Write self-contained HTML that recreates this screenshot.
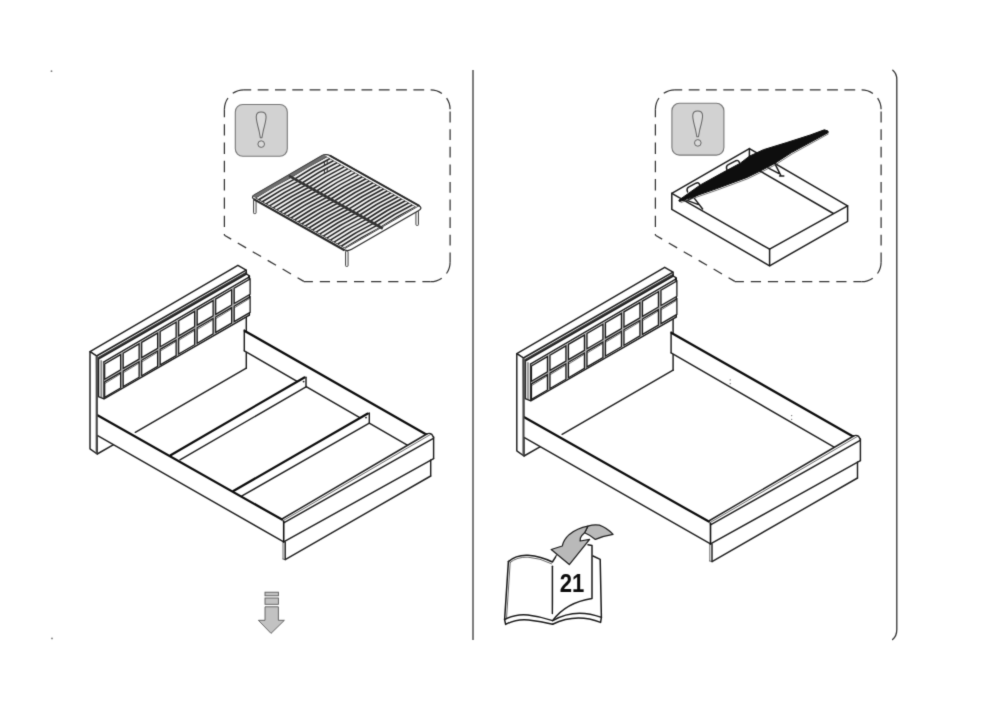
<!DOCTYPE html>
<html lang="en">
<head>
<meta charset="utf-8">
<title>Assembly step</title>
<style>
html,body{margin:0;padding:0;background:#fff;}
body{width:1000px;height:726px;overflow:hidden;position:relative;font-family:"Liberation Sans",sans-serif;}
svg{position:absolute;left:0;top:0;display:block;will-change:transform;}
.t{fill:none;stroke:#1e1e1e;stroke-width:1.45;stroke-linecap:round;stroke-linejoin:round;}
.f{fill:none;stroke:#3a3a3a;stroke-width:0.75;stroke-linecap:round;}
.g{fill:none;stroke:#222;stroke-width:1.5;stroke-linecap:butt;}
.k{fill:none;stroke:#0c0c0c;stroke-width:2.3;stroke-linecap:round;}
.k2{fill:none;stroke:#111;stroke-width:1.6;stroke-linecap:round;}
.c{fill:#fff;stroke:#1a1a1a;stroke-width:1.25;stroke-linejoin:miter;}
.cg{fill:#b4b4b4;stroke:none;}
.mb{fill:#3a3a3a;stroke:none;}
.pl{fill:#dedede;stroke:none;}
.m2{fill:none;stroke:#484848;stroke-width:2.1;stroke-linecap:butt;}
.w{fill:#fff;stroke:none;}
.bk{fill:none;stroke:#1a1a1a;stroke-width:1.5;stroke-linecap:round;stroke-linejoin:round;}
.m{fill:none;stroke:#3c3c3c;stroke-width:1.7;stroke-linecap:butt;}
.b{fill:none;stroke:#1c1c1c;stroke-width:1.5;stroke-linecap:round;stroke-linejoin:round;}
.d{fill:none;stroke:#333;stroke-width:1.25;stroke-dasharray:10.4 6.9;}
.sbf{fill:#262626;stroke:none;}
.sbbar{fill:#6e6e6e;stroke:#444;stroke-width:0.5;}
.sbe{fill:none;stroke:#2a2a2a;stroke-width:2.2;}
.sbe2{fill:none;stroke:#2a2a2a;stroke-width:1.8;}
.sbl{fill:none;stroke:#333;stroke-width:0.9;}
.sbc{fill:none;stroke:#333;stroke-width:2.6;}
.num{font-family:"Liberation Sans",sans-serif;font-weight:700;font-size:26.2px;fill:#0c0c0c;}
.ex{font-family:"Noto Serif CJK SC","Liberation Serif",serif;font-weight:900;font-size:51px;fill:#dadada;stroke:#666;stroke-width:1;stroke-linejoin:round;}
</style>
</head>
<body>
<svg width="1000" height="726" viewBox="0 0 1000 726">
<defs>
<g id="bedA">
<path class="w"  d="M90.0 351.6 L237.9 265.3 L246.2 270.2 L246.4 368.2 L135.0 432.4 L97.2 414.6 L97.2 355.5 Z"/>
<path class="t"  d="M90.0 351.6 L237.9 265.3 L246.2 270.2 L96.6 356.0 Z"/>
<path class="mb"  d="M97.6 357.3 L246.5 271.5 L246.5 273.7 L97.6 359.5 Z"/>
<path class="t" d="M246.2 270.2 L246.5 274.0"/>
<path class="w"  d="M90.0 351.6 L96.6 356.0 L97.2 454.0 L90.0 448.8 Z"/>
<path class="t"  d="M90.0 351.6 L96.6 356.0 L97.2 454.0 L90.0 448.8 Z"/>
<path class="t" d="M97.2 454.0 L113.6 444.7"/>
<path class="t" d="M246.3 314.5 L246.3 368.2"/>
<path class="t" d="M246.3 368.2 L135.3 432.3"/>
<path class="w"  d="M98.4 359.1 L246.5 274.0 L249.4 275.9 L249.4 315.0 L104.0 398.8 L98.4 396.6 Z"/>
<path class="pl"  d="M98.4 359.1 L104.0 361.9 L104.0 398.8 L98.4 396.6 Z"/>
<path class="t"  d="M98.4 359.1 L246.5 274.0 L249.4 275.9 L249.4 315.0 L104.0 398.8 L98.4 396.6 Z"/>
<path class="f" d="M101.2 360.6 L101.2 397.6"/>
<path class="t" d="M104.0 362.0 L104.0 398.6"/>
<path class="t" d="M104.0 361.9 L249.4 276.9"/>
<path class="k2" d="M249.0 276.4 L249.0 315.0"/>
<path class="cg"  d="M104.2 362.8 L248.9 278.2 L248.9 314.6 L104.2 397.9 Z"/>
<path class="c"  d="M104.7 364.0 L120.6 354.7 L120.6 369.9 L104.7 379.2 Z"/>
<path class="c"  d="M104.7 381.9 L120.6 372.6 L120.6 388.0 L104.7 397.3 Z"/>
<path class="f" d="M105.1 383.4 L120.2 374.1"/>
<path class="c"  d="M123.2 353.2 L139.1 343.9 L139.1 359.1 L123.2 368.4 Z"/>
<path class="c"  d="M123.2 371.1 L139.1 361.8 L139.1 377.2 L123.2 386.5 Z"/>
<path class="f" d="M123.6 372.6 L138.7 363.3"/>
<path class="c"  d="M141.7 342.4 L157.6 333.1 L157.6 348.3 L141.7 357.6 Z"/>
<path class="c"  d="M141.7 360.3 L157.6 351.0 L157.6 366.4 L141.7 375.7 Z"/>
<path class="f" d="M142.1 361.8 L157.2 352.5"/>
<path class="c"  d="M160.2 331.5 L176.1 322.3 L176.1 337.5 L160.2 346.7 Z"/>
<path class="c"  d="M160.2 349.4 L176.1 340.2 L176.1 355.6 L160.2 364.8 Z"/>
<path class="f" d="M160.6 350.9 L175.7 341.7"/>
<path class="c"  d="M178.7 320.7 L194.6 311.4 L194.6 326.6 L178.7 335.9 Z"/>
<path class="c"  d="M178.7 338.6 L194.6 329.3 L194.6 344.7 L178.7 354.0 Z"/>
<path class="f" d="M179.1 340.1 L194.2 330.8"/>
<path class="c"  d="M197.2 309.9 L213.1 300.6 L213.1 315.8 L197.2 325.1 Z"/>
<path class="c"  d="M197.2 327.8 L213.1 318.5 L213.1 333.9 L197.2 343.2 Z"/>
<path class="f" d="M197.6 329.3 L212.7 320.0"/>
<path class="c"  d="M215.7 299.1 L231.6 289.8 L231.6 305.0 L215.7 314.3 Z"/>
<path class="c"  d="M215.7 317.0 L231.6 307.7 L231.6 323.1 L215.7 332.4 Z"/>
<path class="f" d="M216.1 318.5 L231.2 309.2"/>
<path class="c"  d="M234.2 288.3 L250.1 279.0 L250.1 294.2 L234.2 303.5 Z"/>
<path class="c"  d="M234.2 306.2 L250.1 296.9 L250.1 312.3 L234.2 321.6 Z"/>
<path class="f" d="M234.6 307.7 L249.7 298.4"/>
<path class="w"  d="M244.3 330.0 L426.3 434.2 L407.3 445.2 L244.3 350.8 Z"/>
<path class="t" d="M244.3 330.0 L244.3 350.8"/>
<path class="t" d="M244.3 350.8 L407.3 445.2"/>
<path class="k" d="M244.8 330.9 L426.3 434.4"/>
</g>
<g id="bedB">
<path class="w"  d="M97.2 414.6 L282.0 519.6 L283.7 541.9 L97.2 435.4 Z"/>
<path class="w"  d="M282.0 519.2 L426.3 434.2 L429.5 433.2 L433.6 437.0 L433.6 458.6 L283.7 541.9 Z"/>
<path class="w"  d="M283.0 542.4 L430.7 459.9 L430.7 476.0 L285.2 559.6 L283.0 559.0 Z"/>
<path class="t" d="M97.2 435.4 L283.7 541.9"/>
<path class="k" d="M97.5 415.2 L282.0 519.6"/>
<path class="m2" d="M96.7 356.2 L96.7 453.6"/>
<path class="t" d="M282.0 519.0 L426.8 434.0"/>
<path class="f" d="M283.0 520.7 L430.5 434.5"/>
<path class="t" d="M283.7 522.8 L433.4 438.4"/>
<path class="t" d="M426.8 434.0 Q429.5 432.6 431.8 434.4 L433.6 437.4"/>
<path class="t" d="M433.6 437.0 L433.6 458.6"/>
<path class="t" d="M433.6 458.6 L283.7 541.9"/>
<path class="k2" d="M283.7 521.2 L283.7 541.9"/>
<path class="t" d="M430.7 459.9 L430.7 476.0"/>
<path class="t" d="M430.7 476.0 L285.2 559.6"/>
<path class="f" d="M283.0 542.4 L283.0 559.0"/>
<path class="t" d="M285.2 542.0 L285.2 559.6"/>
<path class="f" d="M283.0 559.0 L285.2 559.6"/>
</g>
<clipPath id="stemclip"><rect x="10" y="2" width="34" height="34.2"/></clipPath>
<g id="callout" fill="none" stroke="#333" stroke-width="1.25">
<path d="M243.9 89.8 H430.6" stroke-dasharray="10.8 6.5" stroke-dashoffset="3.5"/>
<path d="M430.6 89.8 A19.5 19.5 0 0 1 450.1 109.3" stroke-dasharray="12 6.6 12 0"/>
<path d="M450.1 109.3 V262.2" stroke-dasharray="10.8 6.8" stroke-dashoffset="15.3"/>
<path d="M450.1 262.2 A19.5 19.5 0 0 1 430.6 281.7" stroke-dasharray="12 6.6 12 0"/>
<path d="M303.8 281.7 H430.6" stroke-dasharray="10.2 6.9" stroke-dashoffset="1.1"/>
<path d="M224.4 235.2 L303.8 281.4" stroke-dasharray="9.7 7.6" stroke-dashoffset="1.85"/>
<path d="M224.4 109.3 V235.2" stroke-dasharray="11.4 6.9" stroke-dashoffset="3.4"/>
<path d="M224.4 109.3 A19.5 19.5 0 0 1 243.9 89.8" stroke-dasharray="12 6.6 12 0"/>
</g>
<g id="warn">
<rect x="0.5" y="0.5" width="52" height="51.8" rx="7.5" ry="7.5" fill="#d2d2d2" stroke="#777" stroke-width="1.1"/>
<g clip-path="url(#stemclip)"><text class="ex" x="26.4" y="47.4" text-anchor="middle">!</text></g>
<circle cx="26.4" cy="40.1" r="3.3" fill="#dadada" stroke="#666" stroke-width="1"/>
</g>
<filter id="soft" x="0" y="0" width="1000" height="726" filterUnits="userSpaceOnUse" color-interpolation-filters="sRGB"><feConvolveMatrix order="3" kernelMatrix="1 6 1 6 36 6 1 6 1" divisor="64" edgeMode="duplicate" preserveAlpha="false"/></filter>
</defs>
<g filter="url(#soft)">
<rect x="0" y="0" width="1000" height="726" fill="#fff"/>

<!-- page frame -->
<rect x="472" y="70" width="2" height="570" fill="#7c7c7c"/>
<path d="M892.8 70.2 Q896.8 73.4 896.8 79.5 L896.8 629.5 Q896.8 636 892.6 639.6" fill="none" stroke="#333" stroke-width="1.3" stroke-linecap="round"/>
<circle cx="51.5" cy="71.2" r="0.9" fill="#777"/>
<circle cx="52" cy="638.4" r="0.9" fill="#777"/>

<!-- left callout -->
<use href="#callout"/>
<use href="#warn" x="234.8" y="104"/>
<g id="slatbase">
<rect x="253.5" y="199.5" width="2.6" height="14.1" rx="0.8" fill="#ececec" stroke="#3a3a3a" stroke-width="0.9"/>
<rect x="415.9" y="211.0" width="2.6" height="14.4" rx="0.8" fill="#ececec" stroke="#3a3a3a" stroke-width="0.9"/>
<rect x="345.5" y="251.0" width="2.6" height="15.4" rx="0.8" fill="#ececec" stroke="#3a3a3a" stroke-width="0.9"/>
<path d="M254.7 199.7 Q250.3 197.2 254.6 194.7 L321.7 155.9 Q326.0 153.4 330.4 155.9 L418.7 205.5 Q423.1 208.0 418.8 210.5 L351.7 249.3 Q347.4 251.8 343.0 249.3 Z" fill="#fff" stroke="#2e2e2e" stroke-width="1.3" stroke-linejoin="round"/>
<path class="sbf"  d="M254.9 197.9 L326.5 156.4 L416.0 206.8 L344.4 248.2 Z"/>
<path d="M256.4 198.0 Q273.9 186.6 291.4 177.8 L293.3 178.9 Q275.8 187.7 258.3 199.1 Z" fill="#f2f2f2"/>
<path d="M292.6 177.1 Q309.8 165.9 327.0 157.2 L328.9 158.3 Q311.7 167.0 294.5 178.2 Z" fill="#f2f2f2"/>
<path d="M260.0 200.1 Q277.5 188.6 295.0 179.8 L296.9 180.9 Q279.4 189.7 261.9 201.1 Z" fill="#f2f2f2"/>
<path d="M296.2 179.1 Q313.4 167.9 330.5 159.2 L332.5 160.3 Q315.3 169.0 298.1 180.2 Z" fill="#f2f2f2"/>
<path d="M263.6 202.1 Q281.1 190.7 298.6 181.8 L300.5 182.9 Q283.0 191.7 265.5 203.2 Z" fill="#f2f2f2"/>
<path d="M299.8 181.1 Q316.9 169.9 334.1 161.3 L336.1 162.3 Q318.9 171.0 301.7 182.2 Z" fill="#f2f2f2"/>
<path d="M267.2 204.1 Q284.6 192.7 302.1 183.9 L304.1 184.9 Q286.6 193.8 269.1 205.2 Z" fill="#f2f2f2"/>
<path d="M303.3 183.2 Q320.5 171.9 337.7 163.3 L339.6 164.4 Q322.5 173.0 305.3 184.2 Z" fill="#f2f2f2"/>
<path d="M270.7 206.1 Q288.2 194.7 305.7 185.9 L307.6 187.0 Q290.2 195.8 272.7 207.2 Z" fill="#f2f2f2"/>
<path d="M306.9 185.2 Q324.1 173.9 341.3 165.3 L343.2 166.4 Q326.0 175.0 308.9 186.3 Z" fill="#f2f2f2"/>
<path d="M274.3 208.1 Q291.8 196.7 309.3 187.9 L311.2 189.0 Q293.7 197.8 276.3 209.2 Z" fill="#f2f2f2"/>
<path d="M310.5 187.2 Q327.7 175.9 344.9 167.3 L346.8 168.4 Q329.6 177.0 312.4 188.3 Z" fill="#f2f2f2"/>
<path d="M277.9 210.1 Q295.4 198.7 312.9 189.9 L314.8 191.0 Q297.3 199.8 279.8 211.2 Z" fill="#f2f2f2"/>
<path d="M314.1 189.2 Q331.3 178.0 348.5 169.3 L350.4 170.4 Q333.2 179.0 316.0 190.3 Z" fill="#f2f2f2"/>
<path d="M281.5 212.1 Q299.0 200.7 316.5 191.9 L318.4 193.0 Q300.9 201.8 283.4 213.2 Z" fill="#f2f2f2"/>
<path d="M317.7 191.2 Q334.9 180.0 352.0 171.3 L354.0 172.4 Q336.8 181.1 319.6 192.3 Z" fill="#f2f2f2"/>
<path d="M285.1 214.2 Q302.6 202.7 320.0 193.9 L322.0 195.0 Q304.5 203.8 287.0 215.2 Z" fill="#f2f2f2"/>
<path d="M321.2 193.2 Q338.4 182.0 355.6 173.3 L357.5 174.4 Q340.4 183.1 323.2 194.3 Z" fill="#f2f2f2"/>
<path d="M288.6 216.2 Q306.1 204.8 323.6 195.9 L325.6 197.0 Q308.1 205.8 290.6 217.3 Z" fill="#f2f2f2"/>
<path d="M324.8 195.2 Q342.0 184.0 359.2 175.3 L361.1 176.4 Q343.9 185.1 326.8 196.3 Z" fill="#f2f2f2"/>
<path d="M292.2 218.2 Q309.7 206.8 327.2 197.9 L329.1 199.0 Q311.6 207.9 294.2 219.3 Z" fill="#f2f2f2"/>
<path d="M328.4 197.2 Q345.6 186.0 362.8 177.4 L364.7 178.4 Q347.5 187.1 330.3 198.3 Z" fill="#f2f2f2"/>
<path d="M295.8 220.2 Q313.3 208.8 330.8 200.0 L332.7 201.0 Q315.2 209.9 297.7 221.3 Z" fill="#f2f2f2"/>
<path d="M332.0 199.3 Q349.2 188.0 366.4 179.4 L368.3 180.5 Q351.1 189.1 333.9 200.3 Z" fill="#f2f2f2"/>
<path d="M299.4 222.2 Q316.9 210.8 334.4 202.0 L336.3 203.1 Q318.8 211.9 301.3 223.3 Z" fill="#f2f2f2"/>
<path d="M335.6 201.3 Q352.8 190.0 369.9 181.4 L371.9 182.5 Q354.7 191.1 337.5 202.4 Z" fill="#f2f2f2"/>
<path d="M303.0 224.2 Q320.5 212.8 337.9 204.0 L339.9 205.1 Q322.4 213.9 304.9 225.3 Z" fill="#f2f2f2"/>
<path d="M339.2 203.3 Q356.3 192.0 373.5 183.4 L375.5 184.5 Q358.3 193.1 341.1 204.4 Z" fill="#f2f2f2"/>
<path d="M306.5 226.2 Q324.0 214.8 341.5 206.0 L343.5 207.1 Q326.0 215.9 308.5 227.3 Z" fill="#f2f2f2"/>
<path d="M342.7 205.3 Q359.9 194.1 377.1 185.4 L379.0 186.5 Q361.9 195.1 344.7 206.4 Z" fill="#f2f2f2"/>
<path d="M310.1 228.3 Q327.6 216.8 345.1 208.0 L347.0 209.1 Q329.6 217.9 312.1 229.3 Z" fill="#f2f2f2"/>
<path d="M346.3 207.3 Q363.5 196.1 380.7 187.4 L382.6 188.5 Q365.4 197.2 348.2 208.4 Z" fill="#f2f2f2"/>
<path d="M313.7 230.3 Q331.2 218.8 348.7 210.0 L350.6 211.1 Q333.1 219.9 315.6 231.4 Z" fill="#f2f2f2"/>
<path d="M349.9 209.3 Q367.1 198.1 384.3 189.4 L386.2 190.5 Q369.0 199.2 351.8 210.4 Z" fill="#f2f2f2"/>
<path d="M317.3 232.3 Q334.8 220.9 352.3 212.0 L354.2 213.1 Q336.7 221.9 319.2 233.4 Z" fill="#f2f2f2"/>
<path d="M353.5 211.3 Q370.7 200.1 387.8 191.5 L389.8 192.5 Q372.6 201.2 355.4 212.4 Z" fill="#f2f2f2"/>
<path d="M320.9 234.3 Q338.4 222.9 355.8 214.1 L357.8 215.1 Q340.3 224.0 322.8 235.4 Z" fill="#f2f2f2"/>
<path d="M357.1 213.4 Q374.2 202.1 391.4 193.5 L393.4 194.6 Q376.2 203.2 359.0 214.4 Z" fill="#f2f2f2"/>
<path d="M324.5 236.3 Q341.9 224.9 359.4 216.1 L361.4 217.2 Q343.9 226.0 326.4 237.4 Z" fill="#f2f2f2"/>
<path d="M360.6 215.4 Q377.8 204.1 395.0 195.5 L396.9 196.6 Q379.8 205.2 362.6 216.5 Z" fill="#f2f2f2"/>
<path d="M328.0 238.3 Q345.5 226.9 363.0 218.1 L364.9 219.2 Q347.5 228.0 330.0 239.4 Z" fill="#f2f2f2"/>
<path d="M364.2 217.4 Q381.4 206.1 398.6 197.5 L400.5 198.6 Q383.3 207.2 366.2 218.5 Z" fill="#f2f2f2"/>
<path d="M331.6 240.3 Q349.1 228.9 366.6 220.1 L368.5 221.2 Q351.0 230.0 333.6 241.4 Z" fill="#f2f2f2"/>
<path d="M367.8 219.4 Q385.0 208.2 402.2 199.5 L404.1 200.6 Q386.9 209.2 369.7 220.5 Z" fill="#f2f2f2"/>
<path d="M335.2 242.3 Q352.7 230.9 370.2 222.1 L372.1 223.2 Q354.6 232.0 337.1 243.4 Z" fill="#f2f2f2"/>
<path d="M371.4 221.4 Q388.6 210.2 405.8 201.5 L407.7 202.6 Q390.5 211.3 373.3 222.5 Z" fill="#f2f2f2"/>
<path d="M338.8 244.4 Q356.3 232.9 373.8 224.1 L375.7 225.2 Q358.2 234.0 340.7 245.4 Z" fill="#f2f2f2"/>
<path d="M375.0 223.4 Q392.1 212.2 409.3 203.5 L411.3 204.6 Q394.1 213.3 376.9 224.5 Z" fill="#f2f2f2"/>
<path d="M342.4 246.4 Q359.8 235.0 377.3 226.1 L379.3 227.2 Q361.8 236.0 344.3 247.5 Z" fill="#f2f2f2"/>
<path d="M378.5 225.4 Q395.7 214.2 412.9 205.6 L414.8 206.6 Q397.7 215.3 380.5 226.5 Z" fill="#f2f2f2"/>
<path class="sbbar"  d="M252.6 195.9 L323.4 154.9 L326.5 156.7 L255.7 197.6 Z"/>
<path class="sbl" d="M344.8 248.6 L417.9 206.4"/>
<path class="sbe" d="M253.7 199.1 L344.5 250.2"/>
<path class="sbe2" d="M329.9 155.6 L419.7 206.1"/>
<path class="sbc" d="M289.1 175.8 L382.8 228.5"/>
<path d="M324.4 161.4 v3.8 M327.2 159.9 v3.8" stroke="#222" stroke-width="0.9" fill="none"/>
<path d="M324.4 169.4 v3.8 M327.2 167.9 v3.8" stroke="#222" stroke-width="0.9" fill="none"/>
</g>

<!-- right callout -->
<use href="#callout" x="431"/>
<use href="#warn" x="671.4" y="102.8"/>
<g id="liftbox">
<path class="w"  d="M671.8 193.3 L749.4 148.6 L847.6 205.8 L847.6 221.3 L769.6 265.8 L671.8 209.4 Z"/>
<path class="b" d="M749.4 148.6 L749.4 164.8"/>
<path class="b" d="M749.4 164.8 L833.4 213.5"/>
<path class="b" d="M749.4 164.8 L686.0 201.4"/>
<path class="w"  d="M671.8 193.3 L769.6 249.2 L769.6 265.8 L671.8 209.4 Z"/>
<path class="w"  d="M847.6 205.8 L769.6 249.2 L769.6 265.8 L847.6 221.3 Z"/>
<path class="b"  d="M671.8 193.3 L749.4 148.6 L847.6 205.8 L769.6 249.2 Z"/>
<path class="b"  d="M671.8 193.3 L671.8 209.4 L769.6 265.8 L847.6 221.3 L847.6 205.8"/>
<path class="b" d="M769.6 249.2 L769.6 265.8"/>
<path class="b" d="M727.0 169.8 Q725.4 166.2 728.4 164.6 L735.6 160.8 Q738.4 159.6 739.4 162.6"/>
<path class="b" d="M687.6 192.0 Q686.0 188.4 689.0 186.8 L696.0 183.2 Q698.8 182.0 699.8 185.0"/>
<path class="b" stroke-width="1.8" d="M775.0 163.8 L781.0 175.8 M779.6 176.0 L783.8 176.0 M768.0 167.8 L778.6 173.4"/>
<path class="b" stroke-width="1.6" d="M694.6 198.6 L702.6 209.0 M687.6 200.6 L698.6 204.6"/>
<path d="M678.8 200.2 L700.4 184.9 L722.7 172.6 L740.3 163.2 L749.4 156.2 L763.4 149.7 L786.8 142.5 L810.2 135.0 L824.3 129.8 L828.0 131.0 L828.2 132.6 L791.5 152.6 L775.1 163.2 L761.1 170.6 L747.0 177.4 L716.8 188.6 L679.4 201.6 Z" fill="#0e0e0e" stroke="#0e0e0e" stroke-width="1" stroke-linejoin="round"/>
<path d="M680.6 202.6 L717.4 190.0 L747.6 178.8 L762.0 171.8 L776.0 164.4 L792.4 153.8 L828.6 133.8" fill="none" stroke="#444" stroke-width="0.7"/>
</g>

<!-- left bed -->
<use href="#bedA"/>
<g id="slats">
<path class="w"  d="M170.6 455.0 L304.4 377.2 L306.0 377.6 L306.0 386.9 L180.4 459.6 Z"/>
<path class="k" d="M170.6 455.2 L304.4 377.4"/>
<path class="t" d="M306.0 377.2 L306.0 386.9"/>
<path class="t" d="M306.0 386.9 L180.0 459.8"/>
<circle cx="303.6" cy="381.6" r="0.95" fill="#222"/>
<path class="w"  d="M233.4 490.8 L367.8 413.4 L369.3 413.4 L369.3 423.2 L242.4 495.8 Z"/>
<path class="k" d="M233.4 491.0 L367.8 413.6"/>
<path class="t" d="M369.3 413.0 L369.3 423.2"/>
<path class="t" d="M369.3 423.2 L242.0 495.9"/>
<circle cx="366.0" cy="417.6" r="0.95" fill="#222"/>
</g>
<use href="#bedB"/>

<!-- right bed -->
<g transform="translate(426.8 2)">
<use href="#bedA"/>
<circle cx="303.4" cy="377.9" r="0.6" fill="#555"/><circle cx="303.4" cy="381.7" r="0.6" fill="#555"/>
<circle cx="364.9" cy="413.6" r="0.6" fill="#555"/><circle cx="364.9" cy="417.3" r="0.6" fill="#555"/>
<use href="#bedB"/>
</g>

<!-- down arrow -->
<g fill="#c2c2c2" stroke="#5a5a5a" stroke-width="0.9" stroke-linejoin="miter">
<rect x="265" y="592.2" width="13.4" height="3.6"/>
<rect x="265" y="598" width="13.4" height="6.3"/>
<path d="M265 606.8 L278.4 606.8 L278.4 620.3 L284.4 620.3 L271 633.4 L258.4 620.3 L265 620.3 Z"/>
</g>

<!-- book icon -->
<g id="book">
<path class="bk" d="M508.4 561.6 Q516 554.6 528 555.2 Q541 556.2 552.4 562 L556.6 555.4"/>
<path class="bk" d="M508.4 561.6 L504.6 619.6 Q516 613.6 528 615 Q541 616.6 552.6 620.6"/>
<path class="bk" d="M504.6 619.6 L505.6 624.4 Q517 618.6 528.6 620 Q541 621.4 552.6 624.2"/>
<path class="bk" d="M552.4 566.2 L552.4 613.6"/>
<path class="f" d="M510.2 562.4 Q517 556.8 528 557.2 Q540 558 551.6 563.8 M510.2 562.4 L506.6 617.6"/>
<path class="w" d="M556.6 555.4 L588 544.8 L592 545.6 L592 598.4 Q568 602 553 620 Z"/>
<path class="bk" d="M588 544.8 L592 545.6 L592 598.4 Q566 602.4 552.8 620.4"/>
<path class="bk" d="M593 556 L600.2 559.4 L601.4 617.4 Q575 607.6 552.8 620.6"/>
<path class="bk" d="M601.4 617.4 L600.6 622.4 Q576 613 552.6 624.2"/>
<g opacity="0.999"><text class="num" x="559.7" y="591.5" textLength="24.6" lengthAdjust="spacingAndGlyphs">21</text></g>
</g>
<!-- curved arrow -->
<g fill="#b9b9b9" stroke="#1e1e1e" stroke-width="1.25" stroke-linejoin="round">
<path d="M584.6 532.8 L587.9 526.2 Q594 524.2 599.4 525.2 Q607 528 613.1 534.4 Q603 536 595.4 539.4 Q590.6 535.4 584.6 532.8 Z"/>
<path d="M551.2 549.5 L562.3 546 Q563.6 539.6 569.4 534.4 Q577 528.4 587.9 526.2 L584.6 532.8 Q581.2 535.6 580.4 538 L580.1 541 L589.6 539.4 L569.3 564.6 Z"/>
</g>
</g>
</svg>
</body>
</html>
